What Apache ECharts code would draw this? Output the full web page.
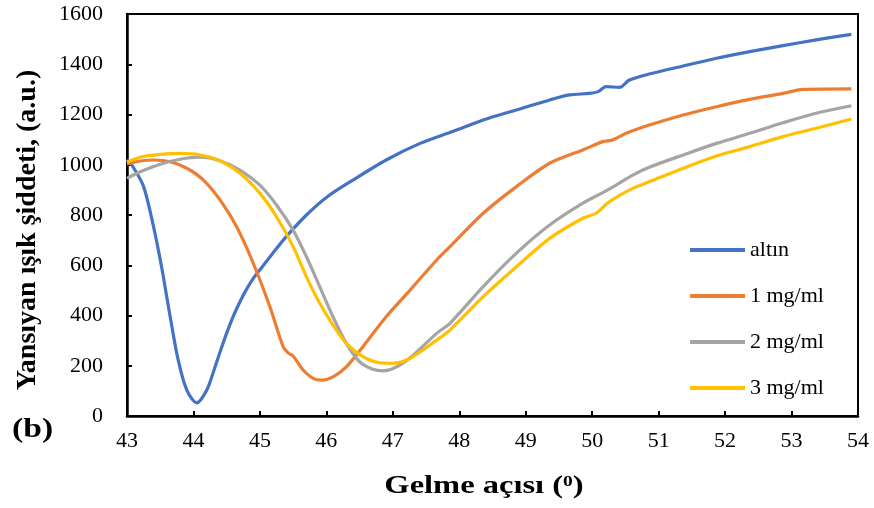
<!DOCTYPE html>
<html><head><meta charset="utf-8">
<script src="https://cdn.jsdelivr.net/npm/echarts@6/dist/echarts.min.js"></script>
<style>html,body{margin:0;padding:0;background:#fff}#c{width:874px;height:508px}</style>
</head><body><div id="c"></div>
<script>
const seriesNames = ['altın', '1 mg/ml', '2 mg/ml', '3 mg/ml'];
const xTicks = [43, 54, 1];
const yTicks = [0, 1600, 200];
const xTitle = 'Gelme açısı (';
const xTitleSup = '0';
const yTitle = 'Yansıyan ışık şiddeti, (a.u.)';
const panelLabel = '(b)';

const altinX = [43.00,43.09,43.25,43.40,43.52,43.65,43.77,43.90,44.05,44.20,44.30,44.40,44.50,44.60,44.70,44.80,44.90,45.00,45.20,45.40,45.70,46.00,46.40,46.90,47.41,47.91,48.36,48.86,49.36,49.66,49.96,50.09,50.21,50.41,50.56,50.86,51.37,51.87,52.37,52.87,53.37,53.90];
const altinY = [1020,992,913,753,594,395,223,103,52,103,175,255,330,398,455,505,548,582,650,715,800,870,939,1019,1085,1133,1178,1218,1258,1278,1284,1291,1311,1308,1337,1361,1393,1424,1450,1474,1497,1519];

const mg1X = [43.00,43.20,43.40,43.65,43.90,44.15,44.40,44.65,44.90,45.15,45.35,45.43,45.50,45.65,45.80,45.93,46.10,46.30,46.55,46.90,47.26,47.66,47.86,48.36,48.86,49.36,49.86,50.16,50.31,50.51,50.86,51.37,51.87,52.37,52.87,53.17,53.90];
const mg1Y = [1003,1015,1019,1012,986,939,860,753,608,435,276,250,239,183,150,143,156,196,276,395,501,621,674,807,913,1006,1059,1092,1099,1125,1158,1198,1231,1260,1284,1300,1302];

const mg2X = [43.00,43.20,43.50,43.80,44.10,44.40,44.70,45.00,45.25,45.50,45.70,45.90,46.10,46.30,46.50,46.70,46.85,47.06,47.31,47.66,47.86,48.36,48.86,49.36,49.86,50.16,50.36,50.61,50.86,51.37,51.87,52.37,52.87,53.37,53.90];
const mg2Y = [946,972,1002,1022,1030,1016,979,919,840,740,634,515,395,289,216,186,180,196,243,329,369,515,648,760,847,889,919,959,990,1039,1085,1125,1167,1205,1235];

const mg3X = [43.00,43.20,43.50,43.80,44.10,44.40,44.70,45.00,45.25,45.50,45.70,45.90,46.10,46.30,46.55,46.80,47.00,47.26,47.66,47.86,48.36,48.86,49.36,49.86,50.06,50.26,50.61,50.86,51.37,51.87,52.37,52.87,53.37,53.90];
const mg3Y = [1010,1030,1041,1045,1039,1016,966,886,793,674,554,449,362,289,236,212,210,230,302,342,475,594,707,787,807,853,906,932,986,1035,1072,1112,1145,1182];

const colors = ['#4472C4', '#ED7D31', '#A5A5A5', '#FFC000'];
const xs = [altinX, mg1X, mg2X, mg3X];
const ys = [altinY, mg1Y, mg2Y, mg3Y];
const FONT = '"Liberation Serif", "Times New Roman", serif';

const chart = echarts.init(document.getElementById('c'), null, {renderer: 'canvas'});
chart.setOption({
  animation: false,
  backgroundColor: '#fff',
  grid: {left: 127, right: 16, top: 14, bottom: 92, show: true, borderColor: '#000', borderWidth: 2, containLabel: false},
  legend: {
    orient: 'vertical', left: 685, top: 234,
    itemWidth: 55, itemHeight: 4, itemGap: 24, icon: 'rect',
    textStyle: {fontFamily: FONT, fontSize: 22, color: '#000'},
    data: seriesNames
  },
  xAxis: {
    type: 'value', min: xTicks[0], max: xTicks[1], interval: xTicks[2],
    axisLine: {show: true, lineStyle: {color: '#000', width: 2.5}},
    axisTick: {show: true, inside: true, length: 5, lineStyle: {color: '#000', width: 2}},
    axisLabel: {fontFamily: FONT, fontSize: 22, color: '#000', margin: 14, formatter: v => String(v)},
    splitLine: {show: false}
  },
  yAxis: {
    type: 'value', min: yTicks[0], max: yTicks[1], interval: yTicks[2],
    axisLine: {show: true, lineStyle: {color: '#000', width: 2.5}},
    axisTick: {show: true, inside: true, length: 5, lineStyle: {color: '#000', width: 2}},
    axisLabel: {fontFamily: FONT, fontSize: 22, color: '#000', margin: 24, formatter: v => String(v)},
    splitLine: {show: false}
  },
  graphic: [
    {type: 'text', x: 12, y: 416, scaleX: 1.2, style: {text: panelLabel, font: 'bold 28px ' + FONT, fill: '#000'}},
    {type: 'text', x: 484, y: 487, scaleX: 1.3,
      style: {text: xTitle + '{sup|' + xTitleSup + '})', font: 'bold 25px ' + FONT, fill: '#000',
        align: 'center', verticalAlign: 'middle',
        rich: {sup: {fontSize: 15, fontWeight: 'bold', fontFamily: FONT, fill: '#000', verticalAlign: 'top'}}}},
    {type: 'text', x: 28, y: 230, rotation: Math.PI / 2,
      style: {text: yTitle, font: 'bold 28px ' + FONT, fill: '#000', align: 'center', verticalAlign: 'middle'}}
  ],
  series: seriesNames.map((n, i) => ({
    name: n, type: 'line', smooth: 0.3, symbol: 'none',
    lineStyle: {color: colors[i], width: 3.2},
    itemStyle: {color: colors[i]},
    data: xs[i].map((x, j) => [x, ys[i][j]])
  }))
});
</script></body></html>
